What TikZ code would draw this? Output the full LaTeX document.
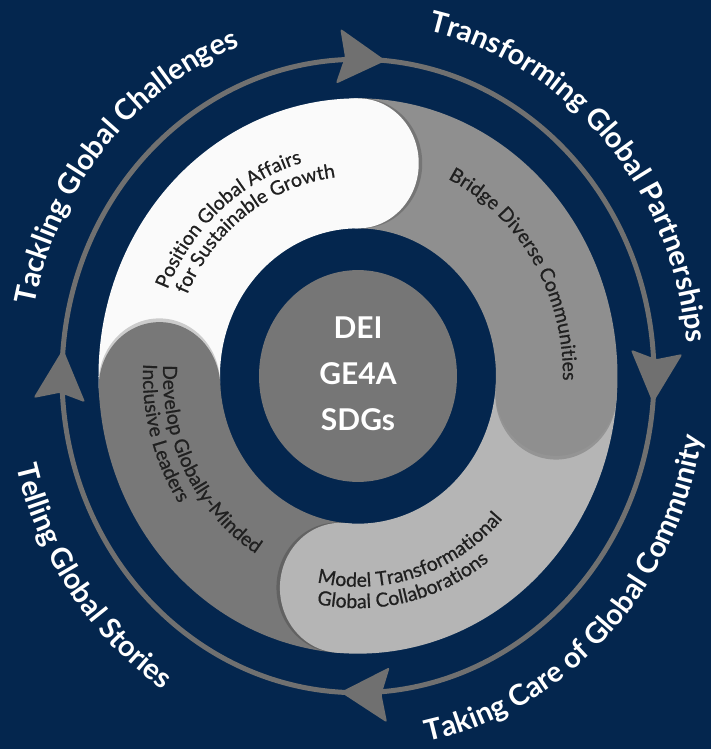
\documentclass[tikz,border=0pt]{standalone}
\usepackage{fontspec}
\setmainfont{Lato}
\newfontfamily\medfont{Lato}[FakeBold=0.7]
\usetikzlibrary{decorations.text,calc}
\definecolor{navy}{RGB}{4,38,78}
\definecolor{ringgray}{RGB}{112,112,112}
\definecolor{segwhite}{RGB}{250,250,250}
\definecolor{segmid}{RGB}{143,143,143}
\definecolor{seglight}{RGB}{181,181,181}
\definecolor{segdark}{RGB}{120,120,120}
\definecolor{centergray}{RGB}{118,118,118}
\definecolor{inktext}{RGB}{32,32,32}
\newcommand\outerfmt{\fontsize{29}{29}\selectfont\bfseries\color{white}}
\newcommand\innerfmt{\fontsize{19.5}{19.5}\selectfont\medfont\color{inktext}}
\newcommand\sectorpath[2]{(#1:259.5) arc[start angle=#1,end angle=#2,radius=259.5] -- (#2:138) arc[start angle=#2,end angle=#1,radius=138] -- cycle}
\tikzset{
  outerlabel/.style={decorate, decoration={text along path, text align=center, text={#1}}},
  innerlabel/.style={decorate, decoration={text along path, text align=left, text={#1}}},
  arrowhd/.style={fill=ringgray, rounded corners=2.5pt},
  capshade/.style={fill=black, opacity=0.18},
}
\begin{document}
\begin{tikzpicture}[x=1pt,y=1pt,yscale=1.07]
% background / bounding box
\fill[navy] (-358,-348.6) rectangle (353,351.4);
\useasboundingbox (-358,-348.6) rectangle (353,351.4);

% outer ring
\draw[ringgray, line width=5pt] (0,0) circle[radius=296];
\foreach \a in {85,-4.5,-93,175.5}{
  \begin{scope}[shift={(\a:296)}, rotate={\a-90}]
    \fill[arrowhd] (2,0) -- (-46,26) -- (-39,0) -- (-46,-26) -- cycle;
  \end{scope}
}

% band sectors (clockwise order)
\fill[segwhite] (183:259.5) arc[start angle=183,end angle=90,radius=259.5] -- (90:138) arc[start angle=90,end angle=183,radius=138] -- cycle;
\fill[segmid] (90:259.5) arc[start angle=90,end angle=-4,radius=259.5] -- (-4:138) arc[start angle=-4,end angle=90,radius=138] -- cycle;
\fill[seglight] (-4:259.5) arc[start angle=-4,end angle=-95,radius=259.5] -- (-95:138) arc[start angle=-95,end angle=-4,radius=138] -- cycle;
\fill[segdark] (265:259.5) arc[start angle=265,end angle=183,radius=259.5] -- (183:138) arc[start angle=183,end angle=265,radius=138] -- cycle;

% soft shadows cast by the caps on the following segment
\begin{scope}
  \clip (90:259.5) arc[start angle=90,end angle=-4,radius=259.5] -- (-4:138) arc[start angle=-4,end angle=90,radius=138] -- cycle;
  \fill[capshade] ($(90:198.75)+(0:3.5)$) circle[radius=60.75];
\end{scope}
\begin{scope}
  \clip (-4:259.5) arc[start angle=-4,end angle=-95,radius=259.5] -- (-95:138) arc[start angle=-95,end angle=-4,radius=138] -- cycle;
  \fill[capshade] ($(-4:198.75)+(-94:3.5)$) circle[radius=60.75];
\end{scope}
\begin{scope}
  \clip (265:259.5) arc[start angle=265,end angle=183,radius=259.5] -- (183:138) arc[start angle=183,end angle=265,radius=138] -- cycle;
  \fill[capshade] ($(-95:198.75)+(175:3.5)$) circle[radius=60.75];
\end{scope}
\begin{scope}
  \clip (183:259.5) arc[start angle=183,end angle=90,radius=259.5] -- (90:138) arc[start angle=90,end angle=183,radius=138] -- cycle;
  \fill[capshade] ($(183:198.75)+(93:3.5)$) circle[radius=60.75];
\end{scope}

% rounded caps
\fill[segwhite] (90:198.75) circle[radius=60.75];
\fill[segmid] (-4:198.75) circle[radius=60.75];
\fill[seglight] (-95:198.75) circle[radius=60.75];
\fill[segdark] (183:198.75) circle[radius=60.75];

% centre
\fill[centergray] (0,0) circle[radius=99];
\node (core) at (0,2) [text=white, font=\fontsize{30}{46}\selectfont\bfseries, align=center] {DEI\\GE4A\\SDGs};

% outer labels
\path[outerlabel={|\outerfmt|Tackling Global Challenges}] (208.5:330) arc[start angle=208.5,end angle=68.5,radius=330];
\path[outerlabel={|\outerfmt|Transforming Global Partnerships}] (112.5:330) arc[start angle=112.5,end angle=-27.5,radius=330];
\path[outerlabel={|\outerfmt|Taking Care of Global Community}] (-115:349) arc[start angle=-115,end angle=25,radius=349];
\path[outerlabel={|\outerfmt|Telling Global Stories}] (146.5:352) arc[start angle=146.5,end angle=286.5,radius=352];

% inner labels
\path[innerlabel={|\innerfmt|Position Global Affairs}] (157:207) arc[start angle=157,end angle=40,radius=207];
\path[innerlabel={|\innerfmt|for Sustainable Growth}] (156:187) arc[start angle=156,end angle=40,radius=187];
\path[innerlabel={|\innerfmt|Bridge Diverse Communities}] (64:205) arc[start angle=64,end angle=-40,radius=205];
\path[innerlabel={|\innerfmt|Model Transformational}] (-102:197) arc[start angle=-102,end angle=10,radius=197];
\path[innerlabel={|\innerfmt|Global Collaborations}] (-101:217) arc[start angle=-101,end angle=10,radius=217];
\path[innerlabel={|\innerfmt|Develop Globally-Minded}] (177:195) arc[start angle=177,end angle=290,radius=195];
\path[innerlabel={|\innerfmt|Inclusive Leaders}] (177:215) arc[start angle=177,end angle=290,radius=215];
\end{tikzpicture}
\end{document}
